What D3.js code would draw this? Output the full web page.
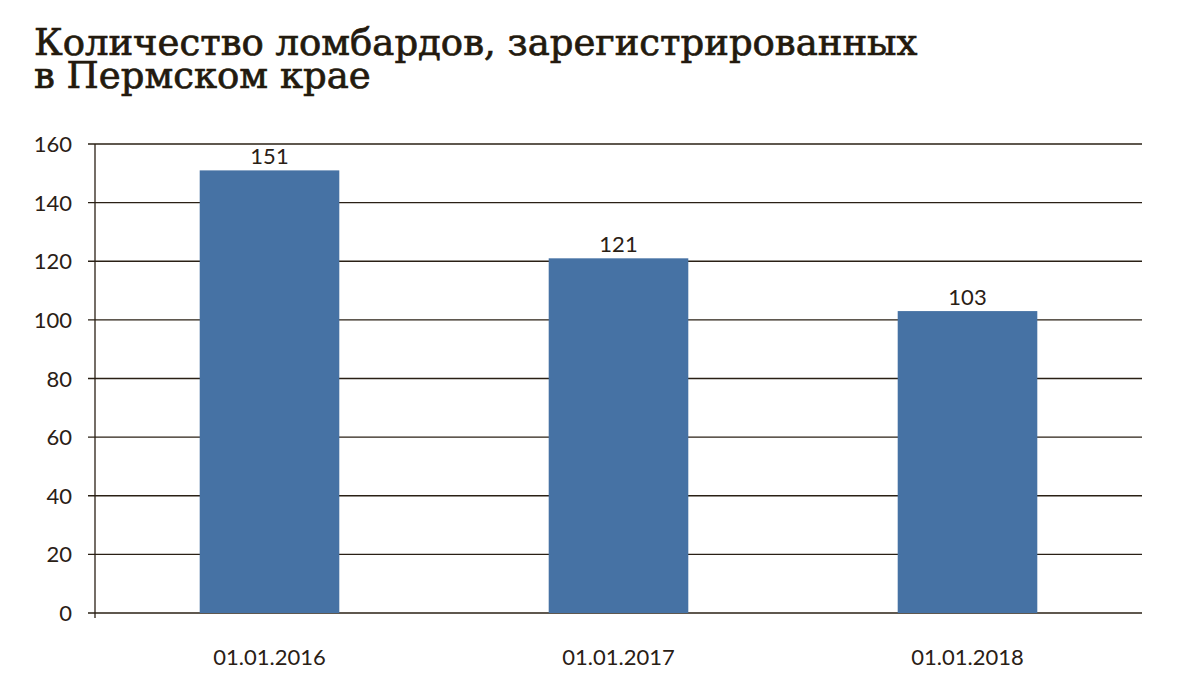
<!DOCTYPE html>
<html><head><meta charset="utf-8">
<script src="https://cdn.jsdelivr.net/npm/d3@7"></script>
<style>body{margin:0;background:#fff}</style>
</head><body>
<svg id="c" width="1200" height="680"></svg>
<script>
const categories = ["01.01.2016", "01.01.2017", "01.01.2018"];
const values = [151, 121, 103];
const yTicks = [0, 20, 40, 60, 80, 100, 120, 140, 160];
const titleLines = ["Количество ломбардов, зарегистрированных", "в Пермском крае"];

(function () {
const svg = d3.select("#c");
const ink = "#2a2015";
const pl = 95, pr = 1142, pt = 144, pb = 613;

const x = d3.scaleBand().domain(categories).range([pl, pr]).paddingInner(0.6).paddingOuter(0.3);
const y = d3.scaleLinear().domain([0, 160]).range([pb, pt]);

svg.append("g").selectAll("text").data(titleLines).join("text")
  .attr("x", 34).attr("y", (d, i) => 55 + i * 33)
  .attr("font-family", "DejaVu Serif").attr("font-size", 37)
  .attr("fill", "#231a0e").attr("stroke", "#231a0e").attr("stroke-width", 0.7)
  .text(d => d);

svg.append("g").selectAll("line").data(yTicks).join("line")
  .attr("x1", pl - 7).attr("x2", pr)
  .attr("y1", d => y(d)).attr("y2", d => y(d))
  .attr("stroke", ink).attr("stroke-width", 1.3);

svg.append("line").attr("x1", pl).attr("x2", pl).attr("y1", y(160)).attr("y2", y(0) + 5)
  .attr("stroke", ink).attr("stroke-width", 1.3);

svg.append("g").selectAll("text").data(yTicks).join("text")
  .attr("x", 72).attr("y", d => y(d) + 8).attr("text-anchor", "end")
  .attr("font-family", "Lato").attr("font-size", 22).attr("fill", ink).text(d => d);

svg.append("g").selectAll("rect").data(values).join("rect")
  .attr("x", (d, i) => x(categories[i])).attr("width", x.bandwidth())
  .attr("y", d => y(d)).attr("height", d => y(0) - y(d)).attr("fill", "#4672a4");

svg.append("g").selectAll("text").data(values).join("text")
  .attr("x", (d, i) => x(categories[i]) + x.bandwidth() / 2).attr("y", d => y(d) - 6)
  .attr("text-anchor", "middle").attr("font-family", "Lato").attr("font-size", 22)
  .attr("fill", ink).text(d => d);

svg.append("g").selectAll("text").data(categories).join("text")
  .attr("x", d => x(d) + x.bandwidth() / 2).attr("y", 665)
  .attr("text-anchor", "middle").attr("font-family", "Lato").attr("font-size", 22)
  .attr("fill", ink).text(d => d);
})();
</script>
</body></html>
